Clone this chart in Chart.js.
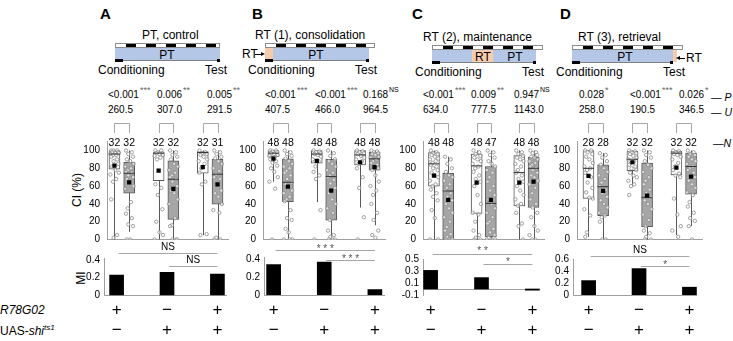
<!DOCTYPE html>
<html>
<head>
<meta charset="utf-8">
<script src="https://cdn.jsdelivr.net/npm/chart.js@4.4.0/dist/chart.umd.min.js"></script>
<style>
  body { margin: 0; width: 733px; height: 341px; overflow: hidden; position: relative; background: #fff;
         font-family: "Liberation Sans", Arial, sans-serif; color: #000; }
  .t { position: absolute; white-space: nowrap; line-height: 1; }
  canvas { position: absolute; }
  .st { position: relative; color: #666; margin-left: 1px; }
</style>
</head>
<body>
<script>
// ---- data ----
const panelLetters = ["A", "B", "C", "D"];
const titles = ["PT, control", "RT (1), consolidation", "RT (2), maintenance", "RT (3), retrieval"];
const pValues = [["<0.001", "0.006", "0.005"], ["<0.001", "<0.001", "0.168"], ["<0.001", "0.009", "0.947"], ["0.028", "<0.001", "0.026"]];
const pMarks = [["***", "**", "**"], ["***", "***", "NS"], ["***", "**", "NS"], ["*", "***", "*"]];
const uValues = [["260.5", "307.0", "291.5"], ["407.5", "466.0", "964.5"], ["634.0", "777.5", "1143.0"], ["258.0", "190.5", "346.5"]];
const nValues = [[32, 32, 32, 32, 32, 31], [48, 48, 48, 48, 48, 48], [48, 48, 48, 47, 48, 48], [28, 28, 32, 32, 32, 32]];

const boxPos = [1, 2, 4, 5, 7, 8];
const q1s = [[79, 52, 66, 22.6, 74.4, 39.8], [93, 42.5, 85.7, 21.8, 83.8, 78], [60, 0, 29.3, 3, 37.6, 36], [46.2, 26.7, 77.4, 14.3, 72.6, 51]];
const q3s = [[100, 86.8, 97.7, 88.3, 98.9, 90.2], [100, 90.6, 100, 90.2, 100, 98], [97.7, 74.4, 95.9, 82, 94.4, 92.5], [100, 83.8, 99, 86, 99, 97]];
const medians = [[96, 74.4, 97, 67.7, 97.7, 73.3], [97, 64.3, 96, 70.7, 95, 90.6], [85, 54.5, 82.7, 40.6, 75.2, 80], [80, 59.4, 90.2, 47.4, 97, 82]];
const means = [[83, 64.3, 77.4, 56.8, 81.2, 62], [91, 59.4, 88.3, 55, 86.8, 81.2], [71.8, 44.4, 63.9, 44.4, 63.9, 65], [71.4, 54.5, 86.8, 49.2, 80.8, 70.7]];
const whiskerLow = [[0, 8.6, 0, 0, 5, 0], [65, 0, 42, 0, 36, 16], [0, 0, 0, 0, 0, 0], [3, 0, 60, 0, 5, 15]];
const whiskerHigh = [[100, 100, 100, 100, 100, 100], [100, 100, 100, 100, 100, 100], [100, 93, 100, 100, 100, 100], [100, 97, 100, 100, 100, 100]];

const ciPoints = [
  [
    [100, 100, 100, 98, 98, 97, 97, 96, 95, 95, 93, 90, 88, 85, 82, 78, 75, 73, 68, 65, 45, 5, 2],
    [100, 98, 96, 93, 90, 88, 85, 82, 80, 78, 76, 75, 72, 70, 68, 65, 60, 57, 42, 35, 29, 24, 17, 15, 0, 0],
    [100, 100, 98, 97, 97, 96, 95, 94, 92, 90, 62, 58, 50, 34, 20, 8, 5, 0],
    [100, 98, 95, 93, 90, 85, 82, 78, 75, 72, 70, 68, 65, 60, 55, 52, 45, 40, 24, 16, 15, 0, 0, 0],
    [100, 98, 97, 96, 95, 93, 90, 88, 85, 80, 75, 65, 62, 6, 5],
    [100, 98, 96, 93, 91, 88, 85, 80, 77, 73, 70, 68, 62, 55, 52, 48, 40, 33, 30, 2, 0, 0]
  ],
  [
    [100, 100, 99, 98, 97, 96, 95, 94, 93, 92, 90, 88, 86, 83, 80, 76, 70, 65, 57, 0],
    [100, 98, 96, 94, 91, 88, 85, 82, 80, 77, 75, 72, 68, 64, 62, 58, 55, 52, 48, 45, 43, 33, 24, 22, 12, 8, 0, 0, 0],
    [100, 99, 98, 97, 96, 95, 93, 90, 88, 82, 76, 72, 68, 33, 0],
    [100, 97, 94, 90, 88, 85, 82, 78, 75, 72, 70, 67, 63, 58, 52, 45, 40, 35, 30, 22, 10, 5, 3, 0, 0, 0],
    [100, 99, 98, 97, 96, 94, 92, 90, 88, 85, 80, 70, 58, 25, 0],
    [100, 99, 98, 97, 96, 95, 93, 92, 90, 88, 86, 84, 82, 80, 78, 72, 65, 60, 55, 50, 40, 30, 22, 10, 5, 2]
  ],
  [
    [100, 98, 97, 96, 95, 93, 91, 90, 88, 86, 84, 82, 80, 78, 75, 72, 70, 66, 62, 60, 56, 52, 48, 44, 33, 24, 0, 0],
    [93, 90, 85, 80, 76, 72, 70, 66, 62, 58, 55, 52, 48, 44, 40, 35, 30, 25, 20, 14, 10, 6, 3, 0, 0, 0, 0],
    [100, 98, 96, 94, 92, 90, 88, 85, 82, 80, 76, 72, 68, 65, 60, 50, 40, 30, 28, 20, 10, 5, 2, 0, 0],
    [100, 98, 95, 92, 88, 85, 82, 78, 75, 70, 65, 60, 55, 50, 45, 40, 35, 30, 25, 20, 18, 12, 8, 5, 2, 0, 0, 0],
    [100, 98, 96, 94, 92, 90, 88, 85, 82, 78, 75, 72, 68, 65, 60, 55, 50, 45, 40, 38, 30, 18, 15, 0],
    [100, 98, 97, 95, 93, 92, 90, 88, 86, 84, 82, 80, 78, 75, 72, 70, 66, 62, 58, 52, 45, 40, 36, 30, 25, 15, 10, 5, 0, 0]
  ],
  [
    [100, 100, 98, 96, 93, 90, 86, 82, 80, 78, 75, 70, 64, 58, 53, 47, 46, 34, 27, 8, 3],
    [97, 95, 92, 88, 84, 80, 76, 72, 68, 64, 60, 56, 52, 48, 44, 40, 36, 30, 27, 25, 20, 0, 0],
    [100, 99, 98, 97, 96, 94, 92, 90, 88, 86, 84, 82, 80, 78, 75, 72, 70, 66, 62, 60, 50],
    [100, 98, 95, 92, 88, 84, 80, 76, 70, 66, 62, 56, 52, 48, 44, 40, 34, 28, 22, 15, 10, 7, 3, 0, 0],
    [100, 99, 98, 97, 96, 95, 93, 90, 86, 82, 78, 74, 72, 70, 46, 28, 15, 10, 3],
    [100, 98, 96, 95, 93, 90, 88, 85, 82, 80, 78, 75, 72, 70, 66, 62, 58, 53, 50, 42, 37, 30, 24, 21, 15, 0]
  ]
];

const miValues = [[0.23, 0.26, 0.24], [0.34, 0.37, 0.06], [0.31, 0.19, -0.02], [0.24, 0.44, 0.13]];
const miMin = [0, 0, -0.1, 0];
const miMax = [0.42, 0.42, 0.5, 0.6];
const sigPairs = [
  [[1, 3, "NS"], [2, 3, "NS"]],
  [[1, 3, "***"], [2, 3, "***"]],
  [[1, 3, "**"], [2, 3, "*"]],
  [[1, 3, "NS"], [2, 3, "*"]]
];
const r78 = ["+", "\u2212", "+"];
const uas = ["\u2212", "+", "+"];

// ---- layout ----
const axisColor = "#a0a0a0";
const jitter = [-0.22, 0.18, -0.06, 0.26, -0.16, 0.06, 0.3, -0.28, 0.12, -0.1];
const geoBox = [
  { axisX: 107, xMin: 0.493, xMax: 8.747, plotW: 122 },
  { axisX: 263, xMin: 0.276, xMax: 8.76, plotW: 123 },
  { axisX: 423, xMin: 0.23, xMax: 8.77, plotW: 122 },
  { axisX: 577, xMin: 0.218, xMax: 8.78, plotW: 126 }
];
const geoBar = [
  { axisX: 104, xMin: 0.75, xMax: 3.19, plotW: 122.6, top: 258.2, bottom: 295.3 },
  { axisX: 264, xMin: 0.81, xMax: 3.2, plotW: 120.7, top: 257.5, bottom: 295 },
  { axisX: 423, xMin: 0.85, xMax: 3.15, plotW: 117.3, top: 259, bottom: 295 },
  { axisX: 573, xMin: 0.69, xMax: 3.15, plotW: 123.6, top: 259, bottom: 295 }
];
const sigLayout = [
  [{ line: 252.7, text: 247 }, { line: 266, text: 260.5 }],
  [{ line: 250, text: 245.5 }, { line: 260, text: 256 }],
  [{ line: 254, text: 248 }, { line: 264, text: 259 }],
  [{ line: 255.7, text: 250.7 }, { line: 266, text: 262 }]
];
const letterX = [100, 252, 412, 560];
const statX = [[108, 157, 207], [265, 315, 363], [423, 471, 514], [579, 630, 679]];
const diagrams = [
  { x0: 115, x1: 220, blue: [115, 220], orange: null, ptX: 167, titleX: 142, condX: 98, testX: 205, dy: 0 },
  { x0: 265, x1: 375, blue: [273, 369], orange: [265, 273], ptX: 316, titleX: 255, condX: 248, testX: 355, dy: 0 },
  { x0: 432, x1: 543, blue: [432, 536], orange: [472, 493], ptX: 515, titleX: 423, condX: 415, testX: 522, dy: 2 },
  { x0: 572, x1: 683, blue: [572, 673], orange: [673, 677], ptX: 625, titleX: 578, condX: 556, testX: 663, dy: 2 }
];

Chart.defaults.font.family = '"Liberation Sans", Arial, sans-serif';
Chart.defaults.color = "#000";

function txt(x, y, html, css) {
  const d = document.createElement("div");
  d.className = "t";
  d.innerHTML = html;
  d.style.cssText += "left:" + x + "px;top:" + y + "px;" + (css || "");
  document.body.appendChild(d);
  return d;
}
function rect(x, y, w, h, css) {
  const d = document.createElement("div");
  d.style.cssText = "position:absolute;left:" + x + "px;top:" + y + "px;width:" + w + "px;height:" + h + "px;box-sizing:border-box;" + (css || "");
  document.body.appendChild(d);
  return d;
}
function addCanvas(x, y, w, h) {
  const c = document.createElement("canvas");
  c.width = Math.round(w); c.height = h;
  c.style.left = x + "px"; c.style.top = y + "px";
  c.style.width = Math.round(w) + "px"; c.style.height = h + "px";
  document.body.appendChild(c);
  return c;
}

// ---- headers, protocol diagrams, stats rows ----
diagrams.forEach((d, i) => {
  txt(letterX[i], 6, panelLetters[i], "font-size:15px;font-weight:bold;");
  txt(d.titleX, 28.7 + d.dy, titles[i], "font-size:12px;");
  rect(d.x0, 43 + d.dy, d.x1 - d.x0, 5, "border:1px solid #8c8c8c;background:repeating-linear-gradient(90deg,#fff 0 10px,#000 10px 20px);");
  rect(d.blue[0], 48 + d.dy, d.blue[1] - d.blue[0], 12, "background:#b4c7e7;");
  if (d.orange) rect(d.orange[0], 48 + d.dy, d.orange[1] - d.orange[0], 12, "background:#f8cbad;");
  txt(d.ptX, 48.5 + d.dy, "PT", "font-size:12px;transform:translateX(-50%);");
  rect(d.x0, 60 + d.dy, d.blue[1] - d.x0, 1, "background:#7f7f7f;");
  rect(d.x0, 59 + d.dy, 8, 3, "background:#000;");
  rect(d.blue[1] - 3, 59 + d.dy, 3, 3, "background:#000;");
  txt(d.condX, 64 + d.dy, "Conditioning", "font-size:12px;");
  txt(d.testX, 64 + d.dy, "Test", "font-size:12px;");

  statX[i].forEach((x, k) => {
    const m = pMarks[i][k];
    const mark = m === "NS"
      ? '<span class="st" style="font-size:7px;top:-6px;color:#000">NS</span>'
      : '<span class="st" style="font-size:9px;top:-5px;">' + m + "</span>";
    txt(x, 90, pValues[i][k].replace("<", "&lt;") + mark, "font-size:10px;");
    txt(x, 105, uValues[i][k], "font-size:10px;");
  });
});
// orange RT labels
txt(483, 50.5, "RT", "font-size:12px;transform:translateX(-50%);");
txt(242, 48, "RT", "font-size:12px;");
rect(255, 53.5, 6, 1, "background:#000;");
rect(261, 51.5, 0, 0, "border-top:2.5px solid transparent;border-bottom:2.5px solid transparent;border-left:4px solid #000;");
rect(679, 57.5, 6, 1, "background:#000;");
rect(676, 55.5, 0, 0, "border-top:2.5px solid transparent;border-bottom:2.5px solid transparent;border-right:4px solid #000;");
txt(686, 52, "RT", "font-size:12px;");

txt(711, 91.5, "\u2014 <i>P</i>", "font-size:10.5px;");
txt(711, 106.5, "\u2014 <i>U</i>", "font-size:10.5px;");
txt(713, 138, "\u2014<i>N</i>", "font-size:10.5px;");

txt(77, 190, "CI (%)", "font-size:12px;transform:translate(-50%,-50%) rotate(-90deg);");
txt(81, 278, "MI", "font-size:12px;transform:translate(-50%,-50%) rotate(-90deg);");
txt(0, 304, "<i>R78G02</i>", "font-size:12px;");
txt(0, 324, "UAS-<i>shi</i><sup style=\"font-size:8px;font-style:italic;vertical-align:5px\">ts1</sup>", "font-size:12px;");

// ---- plugins ----
const boxExtras = {
  id: "boxExtras",
  beforeDatasetsDraw(chart, args, o) {
    // whiskers, from the whisker arrays through the scales
    const { ctx } = chart;
    const { x, y } = chart.scales;
    ctx.save();
    ctx.strokeStyle = "#595959";
    ctx.lineWidth = 1;
    boxPos.forEach((p, k) => {
      const px = Math.round(x.getPixelForValue(p)) + 0.5;
      ctx.beginPath();
      ctx.moveTo(px, y.getPixelForValue(whiskerLow[o.i][k]));
      ctx.lineTo(px, y.getPixelForValue(whiskerHigh[o.i][k]));
      ctx.stroke();
    });
    ctx.restore();
  },
  afterDatasetsDraw(chart, args, o) {
    const { ctx } = chart;
    const x = chart.scales.x;
    ctx.save();
    ctx.strokeStyle = "#a6a6a6";
    ctx.lineWidth = 1;
    for (let g = 0; g < 3; g++) {
      const xa = Math.round(x.getPixelForValue(boxPos[2 * g])) + 0.5;
      const xb = Math.round(x.getPixelForValue(boxPos[2 * g + 1])) + 0.5;
      ctx.beginPath();
      ctx.moveTo(xa, o.brB); ctx.lineTo(xa, o.brT); ctx.lineTo(xb, o.brT); ctx.lineTo(xb, o.brB);
      ctx.stroke();
    }
    ctx.fillStyle = "#000";
    ctx.font = '10.5px "Liberation Sans", Arial, sans-serif';
    ctx.textAlign = "center";
    ctx.textBaseline = "middle";
    boxPos.forEach((p, k) => ctx.fillText(String(nValues[o.i][k]), x.getPixelForValue(p), o.nY));
    ctx.restore();
  }
};

const barExtras = {
  id: "barExtras",
  beforeDatasetsDraw(chart) {
    const { ctx, chartArea } = chart;
    const y0 = Math.round(chart.scales.y.getPixelForValue(0)) + 0.5;
    ctx.save();
    ctx.strokeStyle = axisColor;
    ctx.lineWidth = 1;
    ctx.beginPath(); ctx.moveTo(chartArea.left, y0); ctx.lineTo(chartArea.right, y0); ctx.stroke();
    ctx.restore();
  },
  afterDatasetsDraw(chart, args, o) {
    const { ctx } = chart;
    const x = chart.scales.x;
    const i = o.i;
    ctx.save();
    sigPairs[i].forEach((s, k) => {
      const L = sigLayout[i][k];
      const x1 = x.getPixelForValue(s[0]) + 2, x2 = x.getPixelForValue(s[1]);
      const ly = Math.round(L.line - o.top) + 0.5;
      ctx.strokeStyle = "#a6a6a6";
      ctx.beginPath(); ctx.moveTo(x1, ly); ctx.lineTo(x2, ly); ctx.stroke();
      ctx.textAlign = "center";
      if (s[2] === "NS") {
        ctx.fillStyle = "#000";
        ctx.font = '10px "Liberation Sans", Arial, sans-serif';
        ctx.textBaseline = "middle";
        ctx.fillText("NS", (x1 + x2) / 2, L.text - o.top);
      } else {
        ctx.fillStyle = "#555";
        ctx.font = '10px "Liberation Sans", Arial, sans-serif';
        ctx.textBaseline = "alphabetic";
        ctx.fillText(s[2].split("").join(" "), (x1 + x2) / 2, L.text - o.top + 6);
      }
    });
    ctx.fillStyle = "#000";
    ctx.font = '17px "Liberation Sans", Arial, sans-serif';
    ctx.textAlign = "center";
    ctx.textBaseline = "middle";
    r78.forEach((s, k) => ctx.fillText(s, x.getPixelForValue(k + 1), 310 - o.top));
    uas.forEach((s, k) => ctx.fillText(s, x.getPixelForValue(k + 1), 330 - o.top));
    ctx.restore();
  }
};

// ---- box plots (CI) ----
function makeBoxChart(i) {
  const g = geoBox[i];
  const yw = 45, top = 80, H = 176;
  const W = yw + g.plotW + 6;
  const cv = addCanvas(g.axisX - yw, top, W, H);
  const fills = boxPos.map((p, k) => (k % 2 === 0 ? "#ffffff" : "#a6a6a6"));
  const pts = [];
  ciPoints[i].forEach((arr, k) => arr.forEach((v, j) => pts.push({ x: boxPos[k] + jitter[j % jitter.length], y: v })));

  new Chart(cv, {
    type: "bar",
    data: {
      datasets: [
        { type: "bar", data: boxPos.map((p, k) => ({ x: p, y: [q1s[i][k], q3s[i][k]] })),
          backgroundColor: fills, borderColor: "#595959", borderWidth: 1, borderSkipped: false,
          barThickness: 11, grouped: false, order: 4 },
        { type: "scatter", data: boxPos.map((p, k) => ({ x: p, y: medians[i][k] })),
          pointStyle: "line", pointRadius: 5.5, borderColor: "#333", borderWidth: 1, order: 2 },
        { type: "scatter", data: pts, pointStyle: "circle", pointRadius: 1.7, borderWidth: 0.8,
          borderColor: "#8c8c8c", backgroundColor: "rgba(255,255,255,0.6)", order: 3 },
        { type: "scatter", data: boxPos.map((p, k) => ({ x: p, y: means[i][k] })),
          pointStyle: "rect", pointRadius: 3, backgroundColor: "#000", borderColor: "#000", borderWidth: 0, order: 1 }
      ]
    },
    options: {
      responsive: false,
      animation: false,
      events: [],
      layout: { padding: { left: 0, right: 6, top: 141.6 - top, bottom: top + H - 239.5 } },
      plugins: {
        legend: { display: false },
        tooltip: { enabled: false },
        boxExtras: { i: i, brT: 123.5 - top, brB: 133 - top, nY: 143 - top }
      },
      scales: {
        x: { type: "linear", min: g.xMin, max: g.xMax, offset: false,
             grid: { display: false }, ticks: { display: false }, border: { color: axisColor },
             afterFit(s) { s.height = 0; } },
        y: { min: 0, max: 110, grid: { display: false, drawTicks: false }, border: { color: axisColor },
             ticks: { stepSize: 20, includeBounds: false, autoSkip: false, padding: 7, font: { size: 10 } },
             afterFit(s) { s.width = yw; } }
      }
    },
    plugins: [boxExtras]
  });
}

// ---- MI bars ----
function makeBarChart(i) {
  const g = geoBar[i];
  const yw = 40, top = 240, H = 101;
  const W = yw + g.plotW + 6;
  const cv = addCanvas(g.axisX - yw, top, W, H);
  new Chart(cv, {
    type: "bar",
    data: {
      datasets: [{ data: miValues[i].map((v, k) => ({ x: k + 1, y: v })), backgroundColor: "#000", barThickness: 14 }]
    },
    options: {
      responsive: false,
      animation: false,
      events: [],
      layout: { padding: { left: 0, right: 6, top: g.top - top, bottom: top + H - g.bottom } },
      plugins: { legend: { display: false }, tooltip: { enabled: false }, barExtras: { i: i, top: top } },
      scales: {
        x: { type: "linear", min: g.xMin, max: g.xMax, offset: false,
             grid: { display: false }, ticks: { display: false }, border: { display: false },
             afterFit(s) { s.height = 0; } },
        y: { min: miMin[i], max: miMax[i], grid: { display: false, drawTicks: false }, border: { color: axisColor },
             ticks: { stepSize: 0.2, includeBounds: false, autoSkip: false, padding: 4, font: { size: 10 } },
             afterFit(s) { s.width = yw; } }
      }
    },
    plugins: [barExtras]
  });
}

for (let i = 0; i < 4; i++) {
  makeBoxChart(i);
  makeBarChart(i);
}
</script>
</body>
</html>
